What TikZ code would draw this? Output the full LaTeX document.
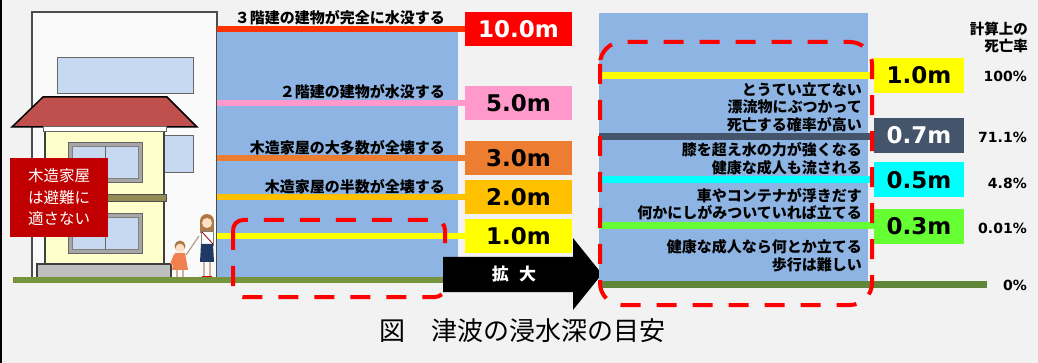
\documentclass[tikz,border=0pt]{standalone}
\usepackage{fontspec}
\setmainfont{Noto Sans CJK JP}
\newfontfamily\numfont{DejaVu Sans}
\definecolor{bg}{HTML}{F2F2F2}
\definecolor{water}{HTML}{8DB4E2}
\definecolor{groundA}{HTML}{77933C}
\definecolor{groundB}{HTML}{5E8538}
\definecolor{lvRedLine}{HTML}{FF3300}
\definecolor{lvRed}{HTML}{FF0000}
\definecolor{lvPink}{HTML}{FF99CC}
\definecolor{lvOrange}{HTML}{ED7D31}
\definecolor{lvAmber}{HTML}{FFC000}
\definecolor{lvYellow}{HTML}{FFFF00}
\definecolor{lvSlate}{HTML}{44546A}
\definecolor{lvCyan}{HTML}{00FFFF}
\definecolor{lvGreen}{HTML}{66FF33}
\definecolor{roofred}{HTML}{C0504D}
\definecolor{wall}{HTML}{FFFFCC}
\definecolor{winblue}{HTML}{C6D9F1}
\definecolor{frame}{HTML}{A6A6A6}
\definecolor{band}{HTML}{948A54}
\definecolor{warn}{HTML}{C00000}
\definecolor{hair}{HTML}{B07A45}
\definecolor{skin}{HTML}{FCE0C8}
\definecolor{dress}{HTML}{F08050}
\definecolor{navy}{HTML}{1F3864}
\begin{document}
\begin{tikzpicture}[x=1pt,y=-1pt,
  lvline/.style={line width=6pt},
  lvline2/.style={line width=7pt},
  bigbox/.style={minimum width=107pt,minimum height=34pt,inner sep=0pt,
    font=\numfont\bfseries\fontsize{23}{26}\selectfont},
  smallbox/.style={minimum width=90pt,minimum height=35pt,inner sep=0pt,
    font=\numfont\bfseries\fontsize{23}{26}\selectfont},
  lvtext/.style={anchor=east,inner sep=0pt,font=\bfseries\fontsize{15}{17.5}\selectfont},
  rtext/.style={anchor=east,inner sep=0pt,align=right,font=\bfseries\fontsize{15}{17.6}\selectfont},
  pct/.style={anchor=east,inner sep=0pt,font=\numfont\bfseries\fontsize{14}{16}\selectfont},
  zoomframe/.style={draw=lvRed,line width=4pt,dash pattern=on 20pt off 16pt},
  outline/.style={draw=black!75,line width=1.2pt}]
% page
\fill[bg] (0,0) rectangle (1038,363);
\useasboundingbox (0,0) rectangle (1038,363);
\fill[black] (0,0) rectangle (2,363);

% ---------- left panel: buildings ----------
\draw[draw=black!70,fill=white!60!bg,line width=1.2pt] (32,12) rectangle (217,278);
\draw[draw=black!60,fill=winblue,line width=1pt] (57,58) rectangle (193,94);
\draw[draw=black!60,fill=winblue,line width=1pt] (163,136) rectangle (193,173);
\draw[outline,fill=wall] (45,131) rectangle (164,264);
\draw[draw=black!70,fill=band,line width=0.8pt] (45,194) rectangle (166,201);
\draw[draw=black,fill=roofred,line width=1.5pt] (12,127) -- (43,97) -- (167,97) -- (197,127) -- cycle;
\draw[draw=black!60,fill=white,line width=0.8pt] (43,126) rectangle (166,131);
% windows
\foreach \wy in {142,213}{
  \draw[draw=black!60,fill=frame,line width=0.8pt] (68,\wy) rectangle (142,\wy+40);
  \draw[draw=black!50,fill=winblue,line width=0.6pt] (72,\wy+4) rectangle (138,\wy+36);
  \draw[black!60,line width=0.8pt] (105,\wy+4) -- (105,\wy+36);
}
\draw[outline,fill=black!25] (37,264) rectangle (171,278);

% people
\draw[skin!70!black,line width=1.2pt] (186,255) -- (199,236);
% child
\fill[dress] (175,253) -- (185,253) -- (188,270) -- (172,270) -- cycle;
\fill[dress] (174,254) -- (170,264) -- (173,265) -- (177,257) -- cycle;
\draw[skin!80!black,line width=1.6pt] (177,270) -- (177,277) (183,270) -- (183,277);
\fill[hair] (180,246) circle (5.5);
\fill[skin] (180,248) circle (4.3);
% woman
\fill[hair] (207,221) circle (7);
\fill[hair] (200,221) rectangle (214,233);
\fill[skin] (207,223) circle (5);
\fill[white] (201,231) rectangle (213,245);
\draw[black!50,line width=0.4pt] (201,231) rectangle (213,245);
\draw[red!60!black,line width=0.8pt] (202,232) -- (213,244);
\fill[navy] (201,244) -- (213,244) -- (214,262) -- (200,262) -- cycle;
\draw[skin!80!black,line width=2pt] (204,262) -- (204,277) (210,262) -- (210,277);
\fill[red!80!black] (202,276) rectangle (212,279);

% warning label
\node[fill=warn,text=white,minimum width=98pt,minimum height=79pt,inner sep=0pt,
  align=center,font=\fontsize{15.5}{21.5}\selectfont] (warnbox) at (59,197.5)
  {木造家屋\\は避難に\\適さない};

% water and ground
\fill[water] (217,30) rectangle (458,278);
\fill[groundA] (13,277) rectangle (458,283);

% ---------- left panel: levels ----------
\node[bigbox,fill=lvRed,text=white] (b10) at (518.5,29.5) {10.0m};
\node[bigbox,fill=lvPink] (b5) at (518.5,103.5) {5.0m};
\node[bigbox,fill=lvOrange] (b3) at (518.5,158.5) {3.0m};
\node[bigbox,fill=lvAmber] (b2) at (518.5,197.5) {2.0m};
\node[bigbox,fill=lvYellow] (b1) at (518.5,236.5) {1.0m};
\coordinate (s10) at (217,29.5);
\coordinate (s5) at (217,103.5);
\coordinate (s3) at (217,158.5);
\coordinate (s2) at (217,197.5);
\coordinate (s1) at (217,236.5);
\draw[lvline,lvRedLine] (s10) -- (b10.west);
\draw[lvline,lvPink] (s5) -- (b5.west);
\draw[lvline,lvOrange] (s3) -- (b3.west);
\draw[lvline,lvAmber] (s2) -- (b2.west);
\draw[lvline,lvYellow] (s1) -- (b1.west);
\node[lvtext] (t10) at (445,18) {３階建の建物が完全に水没する};
\node[lvtext] (t5) at (445,92) {２階建の建物が水没する};
\node[lvtext] (t3) at (445,148) {木造家屋の大多数が全壊する};
\node[lvtext] (t2) at (445,187) {木造家屋の半数が全壊する};

% zoomed area
\draw[zoomframe,rounded corners=10pt] (233,220) rectangle (445,297);

% arrow
\fill[black] (443,257) -- (573,257) -- (573,238) -- (602,274) -- (573,310) -- (573,292) -- (443,292) -- cycle;
\node[text=white,font=\bfseries\fontsize{17}{20}\selectfont,inner sep=0pt] (zoomlbl) at (514,274.5) {拡\hspace{0.6em}大};

% caption
\node[font=\fontsize{26}{30}\selectfont,inner sep=0pt] (caption) at (522,331) {図　津波の浸水深の目安};

% ---------- right panel ----------
\fill[water] (599,13) rectangle (868,282);
\fill[groundB] (599,281) rectangle (987,288);
\node[smallbox,fill=lvYellow] (r10) at (919,75.5) {1.0m};
\node[smallbox,fill=lvSlate,text=white] (r07) at (919,135.5) {0.7m};
\node[smallbox,fill=lvCyan] (r05) at (919,180) {0.5m};
\node[smallbox,fill=lvGreen] (r03) at (919,226.5) {0.3m};
\coordinate (q10) at (599,75.5);
\coordinate (q07) at (599,136.5);
\coordinate (q05) at (599,180);
\coordinate (q03) at (599,226);
\draw[lvline2,lvYellow] (q10) -- (r10.west);
\draw[lvline2,lvSlate] (q07) -- (r07.west |- q07);
\draw[lvline2,lvCyan] (q05) -- (r05.west);
\draw[lvline2,lvGreen] (q03) -- (r03.west |- q03);
\node[rtext] (d10) at (862,107) {とうてい立てない\\漂流物にぶつかって\\死亡する確率が高い};
\node[rtext] (d07) at (862,159) {膝を超え水の力が強くなる\\健康な成人も流される};
\node[rtext] (d05) at (862,204) {車やコンテナが浮きだす\\何かにしがみついていれば立てる};
\node[rtext] (d03) at (862,256) {健康な成人なら何とか立てる\\歩行は難しい};
\draw[zoomframe,rounded corners=22pt] (600,42) rectangle (872,305);

% death rates
\node[anchor=east,inner sep=0pt,align=right,font=\bfseries\fontsize{14.5}{17}\selectfont] (hdr) at (1028,37) {計算上の\\死亡率};
\node[pct] (p10) at (1027,76) {100\%};
\node[pct] (p07) at (1027,137) {71.1\%};
\node[pct] (p05) at (1027,183) {4.8\%};
\node[pct] (p03) at (1027,228) {0.01\%};
\node[pct] (p00) at (1027,285) {0\%};
\end{tikzpicture}
\end{document}
